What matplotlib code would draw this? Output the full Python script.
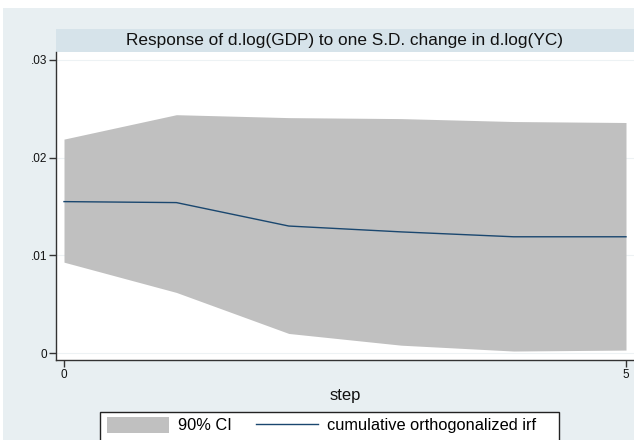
import matplotlib
matplotlib.use("Agg")
import matplotlib.pyplot as plt
from matplotlib.patches import Rectangle

plt.rcParams['font.family'] = ['Liberation Sans', 'DejaVu Sans']

steps = [0, 1, 2, 3, 4, 5]
irf = [0.0155, 0.0154, 0.0130, 0.0124, 0.0119, 0.0119]
ci_lower = [0.0093, 0.0062, 0.0020, 0.0008, 0.0002, 0.0003]
ci_upper = [0.0219, 0.0244, 0.0241, 0.0240, 0.0237, 0.0236]
yticks = [0, 0.01, 0.02, 0.03]
ytick_labels = ['0', '.01', '.02', '.03']
xticks = [0, 5]
title = "Response of d.log(GDP) to one S.D. change in d.log(YC)"
xlabel = "step"
legend_labels = ["90% CI", "cumulative orthogonalized irf"]

W, H = 634, 440
bg = '#e8eff2'
band = '#d6e3ea'
fig = plt.figure(figsize=(W / 100, H / 100), dpi=100, facecolor='white')

def fx(px):
    return px / W

def fy(py):
    return 1 - py / H

# graph region background
fig.patches.append(Rectangle((fx(3), 0), fx(W - 3), 432 / H, transform=fig.transFigure,
                             facecolor=bg, edgecolor='none', zorder=-10))
# title band
fig.patches.append(Rectangle((fx(56), fy(52)), fx(W - 56), 23 / H, transform=fig.transFigure,
                             facecolor=band, edgecolor='none', zorder=-9))
fig.text(fx(344), fy(41), title, ha='center', va='center', fontsize=12.4, color='#111111')

ax = fig.add_axes([fx(56), 80 / H, fx(W - 56), 308 / H])
ax.set_facecolor('white')
px_per = 293 / 0.03
ax.set_ylim(-7 / px_per, 301 / px_per)
ax.set_xlim(-8 / 112.4, 5 + 8 / 112.4)

ax.fill_between(steps, ci_lower, ci_upper, color='#c0c0c0', linewidth=0, zorder=2,
                label=legend_labels[0])
ax.plot(steps, irf, color='#1a476f', linewidth=1.0, zorder=3, label=legend_labels[1])

for v in yticks:
    ax.axhline(v, color='#edf2f4', linewidth=0.8, zorder=1)

ax.set_yticks(yticks)
ax.set_yticklabels(ytick_labels)
ax.set_xticks(xticks)
ax.set_xticklabels([str(t) for t in xticks])
ax.tick_params(axis='both', direction='out', length=5, width=1, color='#333333',
               labelsize=8.5, pad=1.5, labelcolor='#111111')
for s in ['top', 'right']:
    ax.spines[s].set_visible(False)
for s in ['left', 'bottom']:
    ax.spines[s].set_color('#333333')
    ax.spines[s].set_linewidth(1.0)
ax.set_xlabel(xlabel, fontsize=12, labelpad=5, color='#111111')

# legend frame
fig.patches.append(Rectangle((fx(100), -0.05), fx(559 - 100), fy(412) + 0.05,
                             transform=fig.transFigure, facecolor='white',
                             edgecolor='#222222', linewidth=1.0, zorder=5))
handles, labels = ax.get_legend_handles_labels()
leg = fig.legend(handles, labels, loc='upper left', bbox_to_anchor=(fx(107), fy(417)),
                 ncol=2, frameon=False, fontsize=11.8, handlelength=3.8, handleheight=1.1,
                 handletextpad=0.55, columnspacing=1.45, borderpad=0, borderaxespad=0)
leg.set_zorder(6)

fig.savefig('out.png', dpi=100, facecolor='white')
